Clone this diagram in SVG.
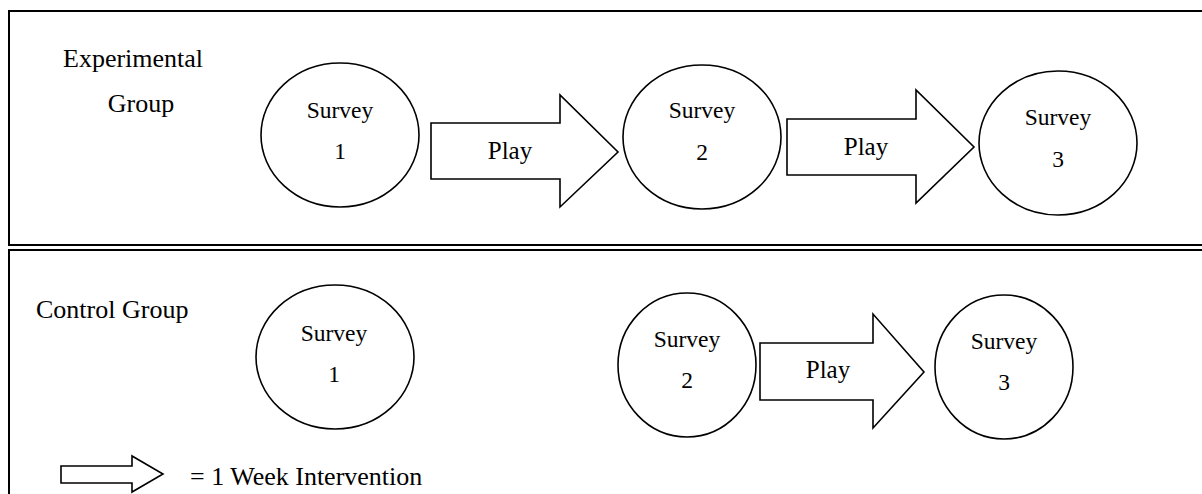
<svg xmlns="http://www.w3.org/2000/svg" width="1202" height="494" viewBox="0 0 1202 494">
<style>
.frame{fill:none;stroke:#000;stroke-width:2}
.node{fill:#fff;stroke:#000;stroke-width:1.6}
.arrow{fill:#fff;stroke:#000;stroke-width:1.6;stroke-linejoin:miter}
text{font-family:"Liberation Serif","Times New Roman",serif;fill:#000}
.lbl{font-size:26px}
.sv{font-size:23.5px;text-anchor:middle}
.play{font-size:25px;text-anchor:middle}
</style>
<rect class="frame" x="9" y="11" width="1200" height="234"/>
<rect class="frame" x="9" y="250" width="1200" height="260"/>
<g id="labels">
<text class="lbl" x="63" y="67">Experimental</text>
<text class="lbl" x="141" y="112" text-anchor="middle">Group</text>
<text class="lbl" x="36" y="318">Control Group</text>
</g>
<g id="connectors">
<g id="e-play1"><polygon class="arrow" points="431,123 560,123 560,95 618,152 560,207 560,179 431,179"/><text class="play" x="510" y="159">Play</text></g>
<g id="e-play2"><polygon class="arrow" points="787,119 916,119 916,90 974,147 916,203 916,175 787,175"/><text class="play" x="866" y="155">Play</text></g>
<g id="c-play"><polygon class="arrow" points="760,343 873,343 873,314 924,372 873,428 873,400 760,400"/><text class="play" x="828" y="378">Play</text></g>
<g id="legend"><polygon class="arrow" points="61,466 132,466 132,456 163,474 132,492 132,483 61,483"/><text class="lbl" x="190" y="485">= 1 Week Intervention</text></g>
</g>
<g id="e-s1"><ellipse class="node" cx="340" cy="135" rx="79" ry="72"/><text class="sv" x="340" y="118">Survey</text><text class="sv" x="340" y="159">1</text></g>
<g id="e-s2"><ellipse class="node" cx="702" cy="137" rx="79" ry="72"/><text class="sv" x="702" y="118">Survey</text><text class="sv" x="702" y="160">2</text></g>
<g id="e-s3"><ellipse class="node" cx="1058" cy="143" rx="79" ry="72"/><text class="sv" x="1058" y="125">Survey</text><text class="sv" x="1058" y="167">3</text></g>
<g id="c-s1"><ellipse class="node" cx="335" cy="357" rx="79" ry="72"/><text class="sv" x="334" y="341">Survey</text><text class="sv" x="334" y="382">1</text></g>
<g id="c-s2"><ellipse class="node" cx="687" cy="365" rx="69" ry="72"/><text class="sv" x="687" y="347">Survey</text><text class="sv" x="687" y="388">2</text></g>
<g id="c-s3"><ellipse class="node" cx="1004" cy="367" rx="69" ry="72"/><text class="sv" x="1004" y="349">Survey</text><text class="sv" x="1004" y="390">3</text></g>
</svg>
